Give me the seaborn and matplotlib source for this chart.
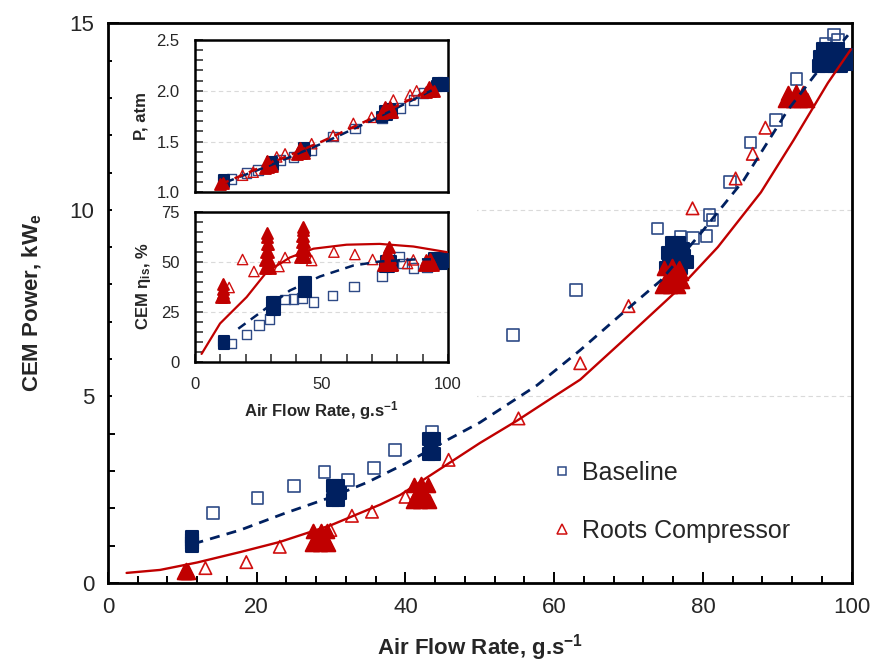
import matplotlib
matplotlib.use("Agg")
import matplotlib.pyplot as plt
from matplotlib.lines import Line2D
from matplotlib.patches import Rectangle
from matplotlib.ticker import MultipleLocator, FormatStrFormatter
import seaborn as sns

# ---------------- data ----------------
# Main panel: CEM power vs air flow
base_x = [14.1, 20.1, 25.0, 29.1, 32.3, 35.8, 38.6, 43.6, 54.5, 62.9, 73.9, 75.9, 77.0, 78.7,
          80.5, 80.9, 81.3, 83.6, 86.4, 89.8, 92.6, 96.5, 97.6, 98.2, 99.3]
base_y = [1.88, 2.28, 2.6, 2.97, 2.76, 3.08, 3.56, 4.05, 6.64, 7.85, 9.5, 9.0, 9.27, 9.24,
          9.3, 9.86, 9.72, 10.74, 11.8, 12.4, 13.5, 14.45, 14.7, 14.55, 14.1]
roots_x = [13.1, 18.6, 23.1, 29.9, 32.8, 35.5, 40.0, 45.8, 55.2, 63.5, 70.0, 75.9, 78.6, 84.4, 86.7, 88.4]
roots_y = [0.4, 0.56, 0.97, 1.42, 1.8, 1.91, 2.31, 3.3, 4.41, 5.89, 7.42, 8.85, 10.04, 10.84, 11.5, 12.2]

base_cl_x = [11.3, 11.3, 11.3, 11.3,
             30.2, 30.9, 30.2, 30.9, 30.5, 31.2, 30.5, 30.5,
             43.1, 43.8, 43.1, 43.8, 43.5, 43.5, 43.5,
             75.0, 76.0, 77.0, 77.8, 75.3, 76.3, 77.3, 75.8, 76.8, 75.5, 76.5, 77.5,
             95.6, 96.6, 97.6, 98.6, 99.4, 95.8, 96.8, 97.8, 98.8, 99.4, 96.2, 97.2, 98.2,
             96.1, 97.1, 98.1, 99.0]
base_cl_y = [0.98, 1.06, 1.14, 1.22,
             2.22, 2.22, 2.6, 2.6, 2.42, 2.4, 2.3, 2.52,
             3.45, 3.45, 3.85, 3.85, 3.65, 3.55, 3.75,
             8.45, 8.4, 8.45, 8.6, 8.85, 8.9, 8.95, 9.1, 9.1, 8.65, 8.65, 8.75,
             13.85, 13.85, 13.85, 13.85, 13.9, 14.1, 14.1, 14.1, 14.1, 14.15, 14.3, 14.3, 14.3,
             13.98, 13.98, 13.98, 14.0]
roots_cl_x = [10.2, 10.8, 10.5, 10.5,
              27.4, 28.5, 29.6, 27.6, 28.6, 29.5, 28.1, 29.0, 28.0, 29.1, 28.5,
              41.0, 42.0, 43.1, 41.2, 42.1, 43.0, 41.6, 42.5, 41.5, 42.6, 42.0,
              74.5, 75.6, 76.7, 77.2, 74.8, 75.8, 76.8, 75.3, 76.3, 75.0, 76.2, 77.0,
              91.1, 92.1, 93.1, 94.0, 91.5, 92.5, 93.5, 91.6, 92.6, 93.5]
roots_cl_y = [0.3, 0.3, 0.36, 0.3,
              1.05, 1.05, 1.05, 1.38, 1.4, 1.38, 1.22, 1.22, 1.12, 1.12, 1.3,
              2.2, 2.2, 2.2, 2.62, 2.65, 2.62, 2.42, 2.42, 2.32, 2.32, 2.52,
              7.95, 7.95, 7.95, 8.1, 8.45, 8.5, 8.45, 8.25, 8.25, 8.1, 8.1, 8.3,
              12.95, 12.95, 12.95, 12.95, 13.12, 13.15, 13.12, 13.03, 13.03, 13.03]

base_fit_x = [11.5, 17.8, 23.8, 30.0, 34.9, 40.0, 45.6, 50.0, 57.7, 63.5, 68.9, 74.3, 79.7, 85.5, 91.4, 95.0, 99.5]
base_fit_y = [1.05, 1.42, 1.87, 2.3, 2.7, 3.2, 3.83, 4.3, 5.3, 6.24, 7.18, 8.1, 9.37, 10.8, 12.67, 13.6, 14.68]
roots_fit_x = [2.5, 7.0, 12.0, 17.8, 23.1, 30.0, 36.6, 39.3, 45.0, 50.0, 55.0, 60.0, 63.5, 69.0,
               76.6, 82.0, 87.8, 92.2, 96.8, 99.9]
roots_fit_y = [0.27, 0.35, 0.55, 0.83, 1.1, 1.55, 2.1, 2.36, 3.1, 3.75, 4.35, 5.0, 5.45, 6.45,
               7.85, 9.0, 10.47, 11.87, 13.4, 14.3]

# Inset top: pressure
p_base_x = [14.5, 20.4, 25.0, 33.6, 38.9, 46.0, 54.6, 63.2, 73.8, 81.0, 86.3, 90.3]
p_base_y = [1.13, 1.19, 1.22, 1.32, 1.35, 1.42, 1.55, 1.63, 1.73, 1.83, 1.91, 1.98]
p_roots_x = [18.8, 23.0, 32.3, 35.6, 46.1, 54.6, 62.6, 69.8, 78.4, 85.0, 87.6]
p_roots_y = [1.17, 1.2, 1.35, 1.38, 1.48, 1.56, 1.68, 1.74, 1.91, 1.96, 2.0]
p_base_cl_x = [11.5, 11.5, 29.5, 31.0, 30.5, 42.5, 43.5, 43.0, 74.0, 76.0, 78.0, 75.0, 77.0,
               95.5, 97.0, 98.5, 99.4, 96.0, 98.0]
p_base_cl_y = [1.1, 1.12, 1.25, 1.27, 1.3, 1.39, 1.41, 1.44, 1.74, 1.76, 1.78, 1.8, 1.82,
               2.05, 2.05, 2.05, 2.07, 2.08, 2.08]
p_roots_cl_x = [10.0, 11.2, 27.5, 29.0, 30.5, 28.5, 40.5, 42.0, 43.0, 41.5, 74.0, 76.0, 78.0, 75.0, 77.0,
                91.5, 93.0, 94.5, 92.5]
p_roots_cl_y = [1.08, 1.09, 1.24, 1.25, 1.26, 1.31, 1.38, 1.39, 1.39, 1.44, 1.78, 1.79, 1.79, 1.84, 1.84,
                1.99, 2.0, 2.0, 2.04]
p_base_fit_x = [12, 30, 50, 70, 98]
p_base_fit_y = [1.10, 1.27, 1.48, 1.71, 2.06]
p_roots_fit_x = [10, 30, 50, 70, 92]
p_roots_fit_y = [1.08, 1.29, 1.50, 1.73, 2.00]

# Inset bottom: isentropic efficiency
e_base_x = [14.5, 20.4, 25.4, 29.4, 35.6, 38.9, 42.2, 46.8, 54.4, 62.8, 73.8, 80.7, 82.0, 86.3, 91.6]
e_base_y = [9, 13.5, 18.4, 21.4, 31, 31.4, 31.9, 29.7, 33, 37.5, 42.9, 52.5, 49, 46.9, 47.2]
e_roots_x = [13.5, 18.8, 23.3, 33.2, 35.6, 46.1, 54.9, 63.2, 70.2, 78.4, 84.0, 86.3]
e_roots_y = [37, 51, 45, 47.5, 52, 50.5, 54.7, 53.5, 51, 48, 49, 50.8]
e_base_cl_x = [11.5, 11.5, 11.5, 30.5, 31.5, 30.5, 31.5, 31.0, 43.0, 44.0, 43.0, 44.0, 43.5,
               75.0, 76.5, 78.0, 75.5, 77.5, 93.5, 95.5, 97.5, 99.0, 94.5, 96.5, 98.5]
e_base_cl_y = [9, 10, 10.5, 26, 26, 30, 30, 28, 35, 35, 40, 40, 37.5,
               47.5, 47.5, 48, 50.5, 50.5, 49, 49, 49, 50, 52, 52, 51.5]
e_roots_cl_x = [10.4, 11.4, 10.9, 10.9, 10.9,
                27.5, 29.5, 27.8, 29.3, 28.0, 29.0, 28.3, 28.8, 28.6, 28.6,
                41.5, 43.5, 41.8, 43.3, 42.1, 43.0, 42.4, 42.8, 42.7, 42.8,
                74.5, 76.5, 78.0, 75.0, 77.0, 75.8, 76.5,
                90.5, 92.5, 94.0, 91.3, 93.0]
e_roots_cl_y = [32.5, 32.5, 34.5, 36.5, 39,
                47, 47, 51, 51, 55, 55, 59, 59, 62.5, 64.5,
                52.5, 52.5, 56, 56, 60, 60, 63, 63, 66, 67.5,
                48.5, 48.5, 48.5, 52, 52, 55, 57.5,
                48.5, 48.5, 48.5, 51, 51.5]
e_base_fit_x = [17.1, 29.6, 37.5, 49.4, 62.6, 73.0, 86.3, 98.0]
e_base_fit_y = [16.4, 28.0, 35.5, 42.5, 48.0, 50.0, 51.0, 51.2]
e_roots_fit_x = [2.6, 9.9, 20.4, 28.3, 37.5, 46.8, 59.9, 73.0, 86.3, 99.5]
e_roots_fit_y = [3.8, 19.0, 32.2, 44.7, 52.0, 56.4, 58.4, 58.8, 57.5, 54.7]

legend_labels = ["Baseline", "Roots Compressor"]

# ---------------- style ----------------
NAVY = "#002060"
NAVY_E = "#2E4A86"
RED = "#C00000"
RED_E = "#D01010"

sns.set_theme(style="white")
plt.rcParams["font.family"] = ["Liberation Sans", "DejaVu Sans"]
plt.rcParams["mathtext.fontset"] = "custom"
plt.rcParams["mathtext.rm"] = "Liberation Sans"
plt.rcParams["mathtext.bf"] = "Liberation Sans:bold"
plt.rcParams["mathtext.it"] = "Liberation Sans:italic"

fig = plt.figure(figsize=(8.78, 6.64), dpi=100)
ax = fig.add_axes([0.123, 0.122, 0.847, 0.843])


def style_axes(a, lw=2.0):
    for s in a.spines.values():
        s.set_visible(True)
        s.set_color("black")
        s.set_linewidth(lw)
    a.set_facecolor("white")


def hollow(a, x, y, marker, color, s, lw=1.2, z=3):
    sns.scatterplot(x=x, y=y, ax=a, marker=marker, s=s, color=color,
                    facecolor="none", edgecolor=color, linewidth=lw, zorder=z)


def filled(a, x, y, marker, color, s, z=3):
    sns.scatterplot(x=x, y=y, ax=a, marker=marker, s=s, color=color,
                    edgecolor=color, linewidth=1.5, zorder=z)


def dashed(a, x, y, color, lw):
    sns.lineplot(x=x, y=y, ax=a, color=color, lw=lw, sort=False, estimator=None, zorder=4)
    a.lines[-1].set_linestyle((0, (3.6, 2.6)))


def solid(a, x, y, color, lw):
    sns.lineplot(x=x, y=y, ax=a, color=color, lw=lw, sort=False, estimator=None, zorder=4)


# ---------------- main panel ----------------
style_axes(ax)
hollow(ax, base_x, base_y, "s", NAVY_E, 70)
hollow(ax, roots_x, roots_y, "^", RED_E, 80)
filled(ax, base_cl_x, base_cl_y, "s", NAVY, 80)
filled(ax, roots_cl_x, roots_cl_y, "^", RED, 95)
dashed(ax, base_fit_x, base_fit_y, NAVY, 2.0)
solid(ax, roots_fit_x, roots_fit_y, RED, 1.7)

ax.set_xlim(0, 100)
ax.set_ylim(0, 15)
ax.xaxis.set_major_locator(MultipleLocator(20))
ax.xaxis.set_minor_locator(MultipleLocator(4))
ax.yaxis.set_major_locator(MultipleLocator(5))
ax.yaxis.set_minor_locator(MultipleLocator(1))
ax.tick_params(which="both", direction="in", top=False, right=False, bottom=True, left=True,
               width=1.4, color="black")
ax.tick_params(which="major", length=8, labelsize=16, pad=10)
ax.tick_params(which="minor", length=5)
ax.yaxis.grid(True, which="major", color="#DADADA", linestyle=(0, (4, 3)), lw=0.8)
ax.xaxis.grid(False)
ax.set_xlabel(r"Air Flow Rate, g.s$^{\mathbf{-1}}$", fontsize=16, fontweight="bold", labelpad=10)
ax.set_ylabel(r"CEM Power, kW$_{\mathbf{e}}$", fontsize=16, fontweight="bold", labelpad=18)

# white background behind the inset
ax.add_patch(Rectangle((112 / 878, 1 - 412 / 664), (477 - 112) / 878, (412 - 30) / 664,
                       transform=fig.transFigure, facecolor="white", edgecolor="none",
                       zorder=1.5, clip_on=False))

handles = [Line2D([], [], marker="s", ls="none", mfc="none", mec=NAVY_E, ms=6, mew=1.1),
           Line2D([], [], marker="^", ls="none", mfc="none", mec=RED_E, ms=6.5, mew=1.1)]
ax.legend(handles, legend_labels, loc="upper left", bbox_to_anchor=(553 / 878, 1 - 461 / 664),
          bbox_transform=fig.transFigure, frameon=False, fontsize=18, handlelength=0.7,
          handletextpad=0.45, labelspacing=1.35, borderpad=0, borderaxespad=0)

# ---------------- inset: pressure ----------------
ax1 = fig.add_axes([195 / 878, 1 - 192.5 / 664, 253 / 878, 152.5 / 664])
style_axes(ax1, 1.8)
hollow(ax1, p_base_x, p_base_y, "s", NAVY_E, 48, lw=1.0)
hollow(ax1, p_roots_x, p_roots_y, "^", RED_E, 55, lw=1.0)
filled(ax1, p_base_cl_x, p_base_cl_y, "s", NAVY, 50)
filled(ax1, p_roots_cl_x, p_roots_cl_y, "^", RED, 60)
dashed(ax1, p_base_fit_x, p_base_fit_y, NAVY, 1.8)
dashed(ax1, p_roots_fit_x, p_roots_fit_y, RED, 1.8)
ax1.set_xlim(0, 100)
ax1.set_ylim(1.0, 2.5)
ax1.xaxis.set_major_locator(MultipleLocator(50))
ax1.yaxis.set_major_locator(MultipleLocator(0.5))
ax1.yaxis.set_minor_locator(MultipleLocator(0.1))
ax1.yaxis.set_major_formatter(FormatStrFormatter("%.1f"))
ax1.tick_params(axis="x", which="both", bottom=False, top=False, labelbottom=False)
ax1.tick_params(axis="y", which="both", direction="in", left=True, right=False, width=1.1)
ax1.tick_params(axis="y", which="major", length=6, labelsize=12, pad=11)
ax1.tick_params(axis="y", which="minor", length=6)
ax1.yaxis.grid(True, which="major", color="#DADADA", linestyle=(0, (4, 3)), lw=0.8)
ax1.xaxis.grid(False)
ax1.set_xlabel("")
ax1.set_ylabel("P, atm", fontsize=12, fontweight="bold", labelpad=6)

# ---------------- inset: efficiency ----------------
ax2 = fig.add_axes([195 / 878, 1 - 361.5 / 664, 253 / 878, 150 / 664])
style_axes(ax2, 1.8)
hollow(ax2, e_base_x, e_base_y, "s", NAVY_E, 48, lw=1.0)
hollow(ax2, e_roots_x, e_roots_y, "^", RED_E, 55, lw=1.0)
filled(ax2, e_base_cl_x, e_base_cl_y, "s", NAVY, 50)
filled(ax2, e_roots_cl_x, e_roots_cl_y, "^", RED, 60)
dashed(ax2, e_base_fit_x, e_base_fit_y, NAVY, 1.8)
solid(ax2, e_roots_fit_x, e_roots_fit_y, RED, 1.6)
ax2.set_xlim(0, 100)
ax2.set_ylim(0, 75)
ax2.xaxis.set_major_locator(MultipleLocator(50))
ax2.xaxis.set_minor_locator(MultipleLocator(10))
ax2.yaxis.set_major_locator(MultipleLocator(25))
ax2.yaxis.set_minor_locator(MultipleLocator(5))
ax2.tick_params(which="both", direction="in", left=True, bottom=True, top=False, right=False,
                width=1.1)
ax2.tick_params(which="major", length=6, labelsize=12, pad=11)
ax2.tick_params(which="minor", length=6)
ax2.yaxis.grid(True, which="major", color="#DADADA", linestyle=(0, (4, 3)), lw=0.8)
ax2.xaxis.grid(False)
ax2.set_xlabel(r"Air Flow Rate, g.s$^{\mathbf{-1}}$", fontsize=12, fontweight="bold", labelpad=5)
ax2.set_ylabel(r"CEM η$_{\mathbf{is}}$, %", fontsize=12, fontweight="bold", labelpad=6)

fig.savefig("out.png", dpi=100)
